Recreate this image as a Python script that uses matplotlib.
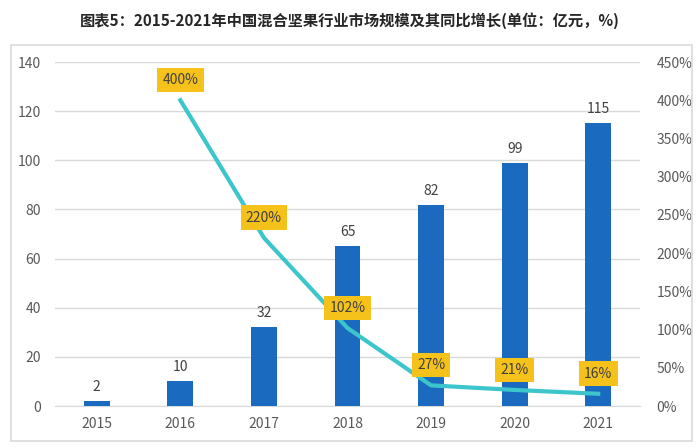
import matplotlib.pyplot as plt
from matplotlib.patches import Rectangle

plt.rcParams['font.family'] = ['Noto Sans CJK SC', 'DejaVu Sans']

# data
years = ['2015', '2016', '2017', '2018', '2019', '2020', '2021']
market_size = [2, 10, 32, 65, 82, 99, 115]          # 亿元
growth_years = ['2016', '2017', '2018', '2019', '2020', '2021']
growth_rate = [400, 220, 102, 27, 21, 16]          # %
left_ticks = [0, 20, 40, 60, 80, 100, 120, 140]
right_ticks = [0, 50, 100, 150, 200, 250, 300, 350, 400, 450]

title = '图表5：2015-2021年中国混合坚果行业市场规模及其同比增长(单位：亿元，%)'

fig = plt.figure(figsize=(7, 4.48), dpi=100)
fig.patches.append(Rectangle((11 / 700, 7 / 448), 681 / 700, 396 / 448,
                             transform=fig.transFigure, fill=False,
                             edgecolor='#D9D9D9', linewidth=1.2))
fig.text(0.5, 1 - 21 / 448, title, ha='center', va='center',
         fontsize=11, fontweight='bold', color='#262626')

ax = fig.add_axes([55 / 700, 42 / 448, 585 / 700, 344 / 448])
x = list(range(len(years)))
bars = ax.bar(x, market_size, width=0.31, color='#1A6AC0', zorder=3)
ax.bar_label(bars, labels=[str(v) for v in market_size], padding=5,
             fontsize=10, color='#404040')

ax.set_xlim(-0.5, len(years) - 0.5)
ax.set_ylim(0, 140)
ax.set_yticks(left_ticks)
ax.set_xticks(x)
ax.set_xticklabels(years)
ax.grid(axis='y', color='#D9D9D9', linewidth=1, zorder=0)
ax.set_axisbelow(True)
for side in ['left', 'right', 'top']:
    ax.spines[side].set_visible(False)
ax.spines['bottom'].set_color('#D9D9D9')
ax.tick_params(axis='both', length=0, labelsize=10, colors='#595959')
ax.tick_params(axis='x', pad=8)
ax.tick_params(axis='y', pad=10)

ax2 = ax.twinx()
gx = [years.index(y) for y in growth_years]
ax2.plot(gx, growth_rate, color='#3CC6CC', linewidth=3, zorder=4)
ax2.set_ylim(0, 450)
ax2.set_yticks(right_ticks)
ax2.set_yticklabels([f'{v}%' for v in right_ticks])
for side in ['left', 'right', 'top', 'bottom']:
    ax2.spines[side].set_visible(False)
ax2.tick_params(axis='y', length=0, labelsize=10, colors='#595959', pad=12)

for xi, v in zip(gx, growth_rate):
    ax2.annotate(f'{v}%', (xi, v), xytext=(0, 14.5), textcoords='offset points',
                 ha='center', va='center', fontsize=10, color='#404040',
                 bbox=dict(boxstyle='square,pad=0.38', facecolor='#F4C21A',
                           edgecolor='none'), zorder=5)

fig.savefig('out.png', dpi=100)
